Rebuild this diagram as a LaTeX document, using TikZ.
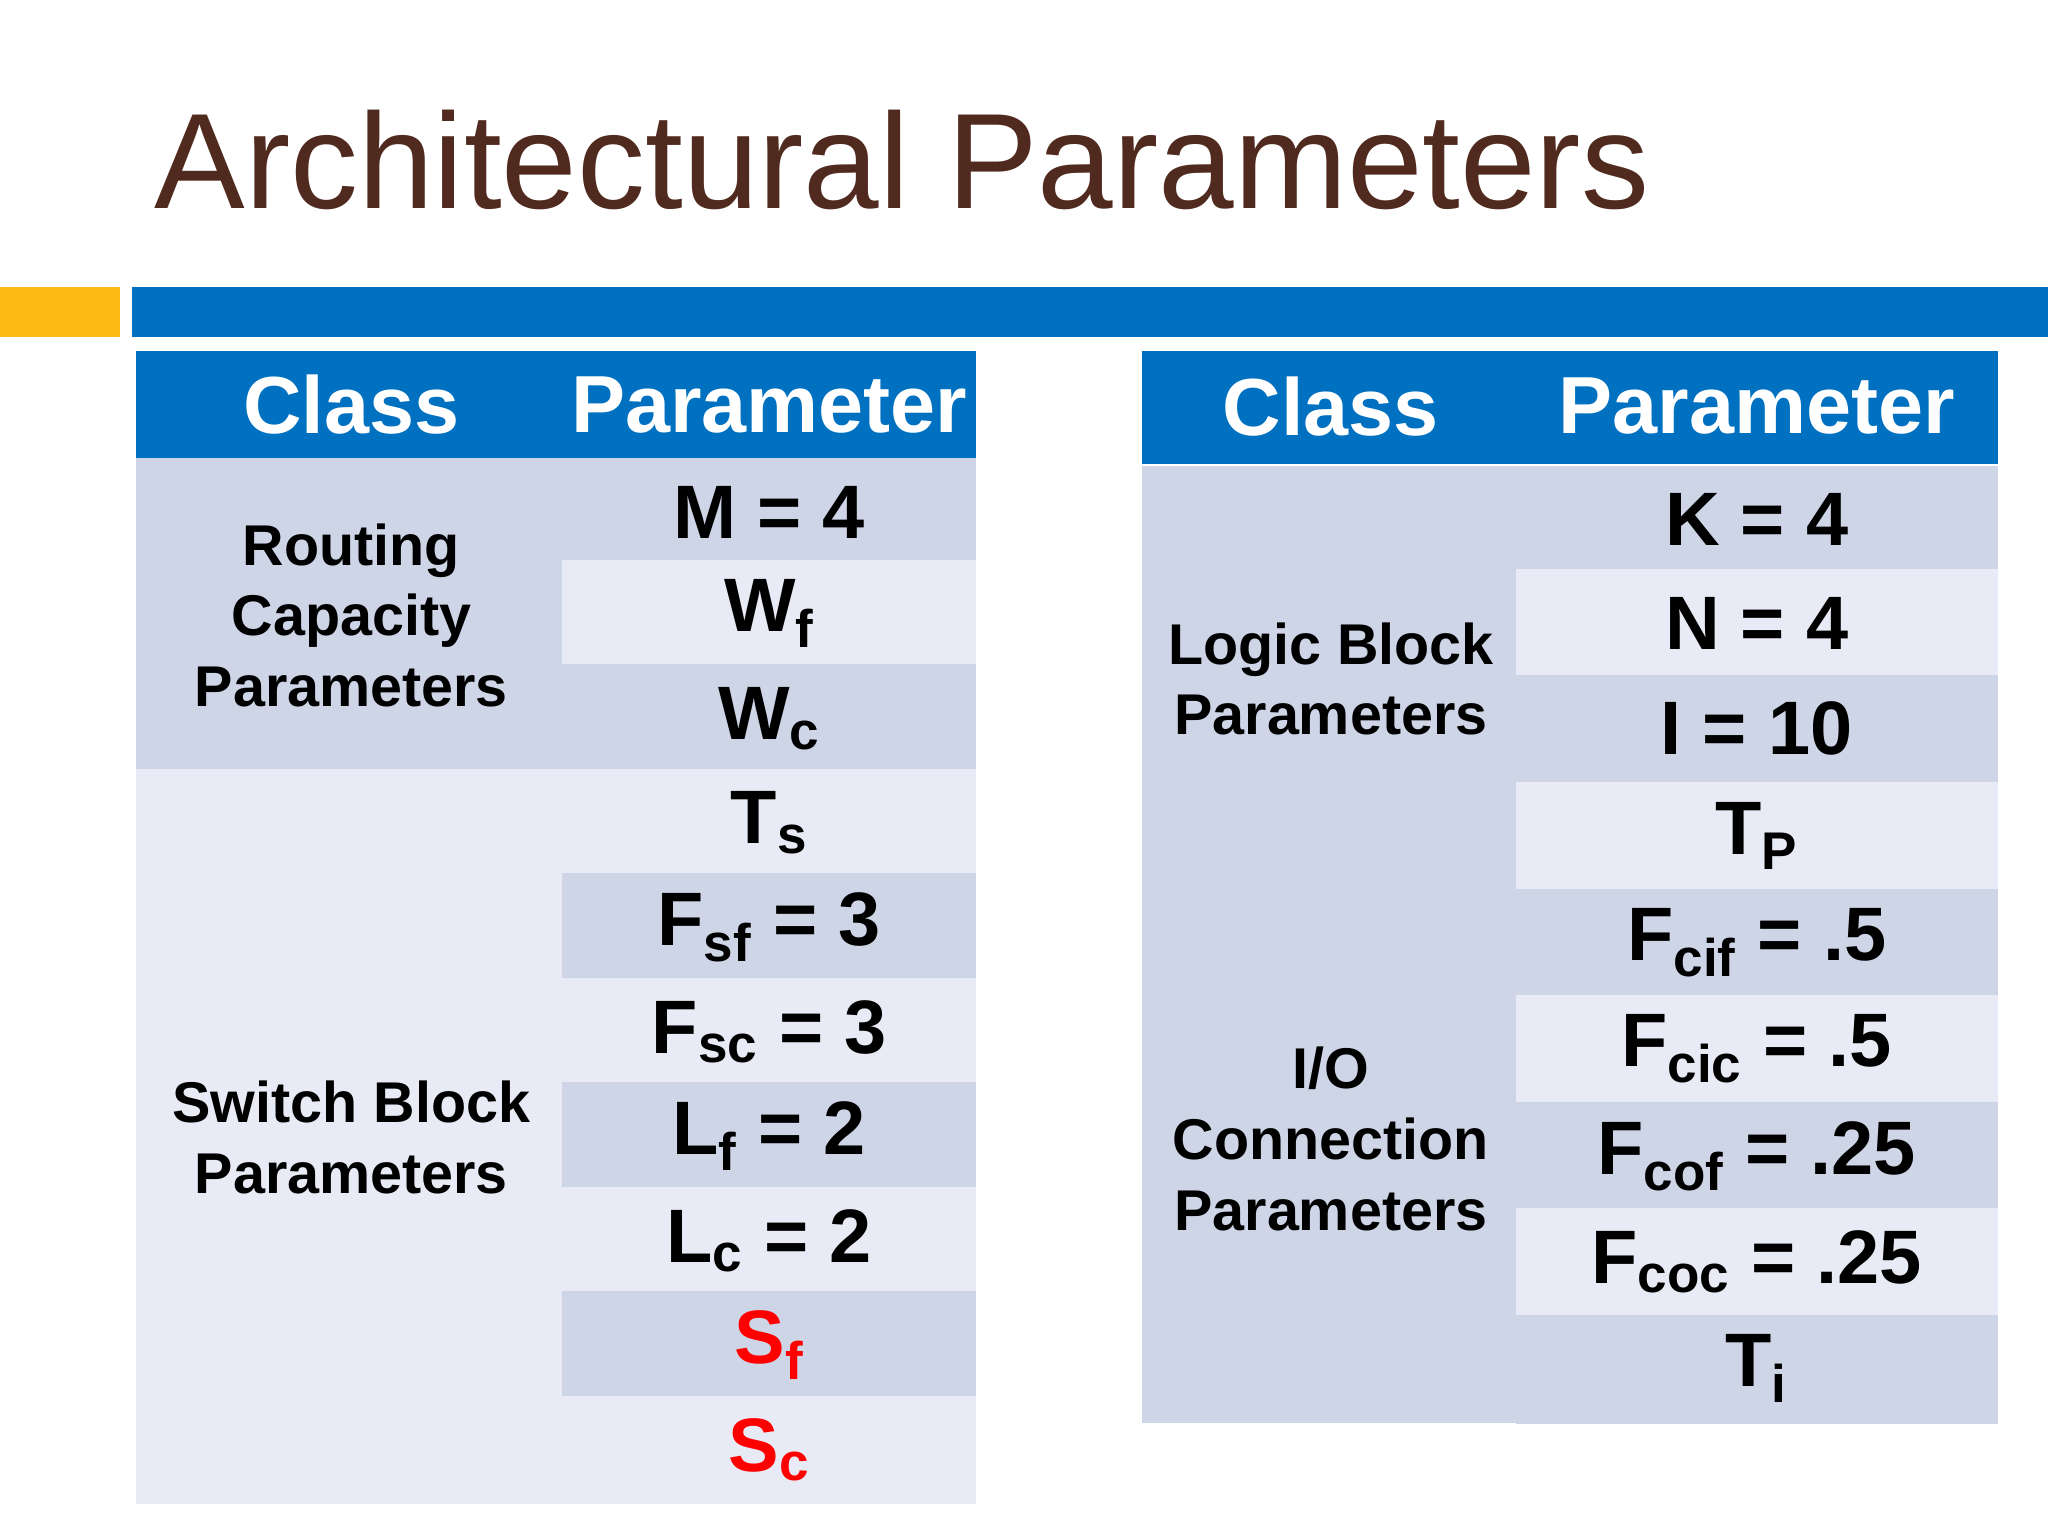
\documentclass[tikz,border=0pt]{standalone}
\usepackage{fontspec}
\setmainfont{Liberation Sans}
\definecolor{dk}{HTML}{CDD5E7}
\definecolor{lt}{HTML}{E8EBF5}
\definecolor{hb}{HTML}{0070C0}
\definecolor{tb}{HTML}{502A1E}
\definecolor{og}{HTML}{FDB813}
\definecolor{rd}{HTML}{FF0000}
\tikzset{cell/.style={draw=white,line width=1.5pt},
 hd/.style={font=\bfseries\fontsize{31}{34}\selectfont,text=white},
 pv/.style={font=\bfseries\fontsize{29}{32}\selectfont},
 cl/.style={font=\bfseries\fontsize{22}{27}\selectfont,align=center}}
\newcommand{\sbs}[1]{\textsubscript{#1}}
\begin{document}
\begin{tikzpicture}[x=0.5pt,y=-0.5pt]
\useasboundingbox (0,0) rectangle (1568,1176);
\fill[white] (0,0) rectangle (1568,1176);
\node[anchor=base west,text=tb,font=\fontsize{52}{56}\selectfont,inner sep=0] (title) at (118,160) {Architectural Parameters};
\fill[og] (0,220) rectangle (92,258);
\fill[hb] (101,220) rectangle (1568,258);
% left table
\fill[cell,hb] (106,270) rectangle (432,349); \node[hd] (lh1) at (269,310) {Class};
\fill[cell,hb] (432,270) rectangle (746,349); \node[hd] (lh2) at (589,310) {Parameter};
\fill[cell,dk] (106,352) rectangle (432,590); \node[cl] (lc1) at (269,471) {Routing\\Capacity\\Parameters};
\fill[cell,lt] (106,590) rectangle (432,1150); \node[cl] (lc2) at (269,871) {Switch Block\\Parameters};
\foreach \y/\c/\t [count=\i] in {352/dk/{M = 4},430/lt/{W\sbs{f}},510/dk/{W\sbs{c}},590/lt/{T\sbs{s}},670/dk/{F\sbs{sf} = 3},750/lt/{F\sbs{sc} = 3},830/dk/{L\sbs{f} = 2},910/lt/{L\sbs{c} = 2},990/dk/{\textcolor{rd}{S\sbs{f}}},1070/lt/{\textcolor{rd}{S\sbs{c}}}}{
 \fill[cell,\c] (432,\y) rectangle (746,\y+80);
 \node[pv] (lp\i) at (589,\y+40) {\t};
}
% right table
\fill[cell,hb] (876,270) rectangle (1162,354); \node[hd] (rh1) at (1019,311) {Class};
\fill[cell,hb] (1162,270) rectangle (1528,354); \node[hd] (rh2) at (1345,311) {Parameter};
\fill[cell,dk] (876,358) rectangle (1162,682); \node[cl] (rc1) at (1019,520) {Logic Block\\Parameters};
\fill[cell,dk] (876,682) rectangle (1162,1088); \node[cl] (rc2) at (1019,872) {I/O\\Connection\\Parameters};
\foreach \y/\c/\t [count=\i] in {358/dk/{K = 4},437/lt/{N = 4},518/dk/{I = 10},600/lt/{T\sbs{P}},682/dk/{F\sbs{cif} = .5},763/lt/{F\sbs{cic} = .5},845/dk/{F\sbs{cof} = .25},926/lt/{F\sbs{coc} = .25},1008/dk/{T\sbs{i}}}{
 \fill[cell,\c] (1162,\y) rectangle (1528,\y+81);
 \node[pv] (rp\i) at (1345,\y+40) {\t};
}
\end{tikzpicture}
\end{document}
